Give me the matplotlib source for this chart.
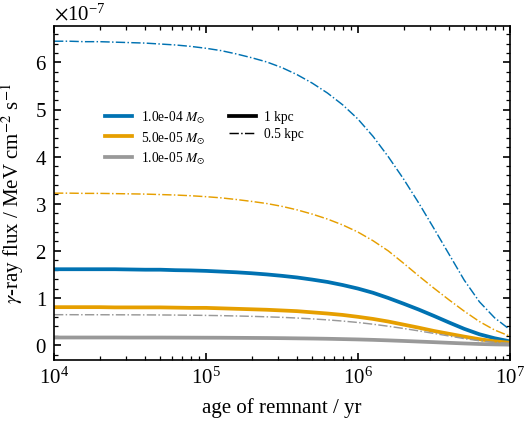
import numpy as np
import matplotlib
matplotlib.use("Agg")
import matplotlib.pyplot as plt
from matplotlib.ticker import ScalarFormatter

# age of remnant (yr), on a log grid
log_age = [4.0, 4.1, 4.2, 4.3, 4.4, 4.5, 4.6, 4.7, 4.8, 4.9,
           5.0, 5.1, 5.2, 5.3, 5.4, 5.5, 5.6, 5.7, 5.8, 5.9,
           6.0, 6.1, 6.2, 6.3, 6.4, 6.5, 6.6, 6.7, 6.8, 6.9, 7.0]

# flux in units of 1e-7 MeV cm^-2 s^-1
flux_1e4_05kpc = [6.45, 6.45, 6.44, 6.44, 6.43, 6.42, 6.41, 6.39, 6.37, 6.34,
                  6.30, 6.25, 6.18, 6.10, 6.01, 5.89, 5.74, 5.56, 5.35, 5.10,
                  4.80, 4.43, 4.00, 3.53, 3.02, 2.48, 1.93, 1.38, 0.92, 0.58, 0.33]
flux_1e4_1kpc = [1.61, 1.61, 1.61, 1.61, 1.61, 1.605, 1.60, 1.60, 1.59, 1.585,
                 1.575, 1.56, 1.545, 1.525, 1.50, 1.47, 1.435, 1.39, 1.34, 1.275,
                 1.20, 1.11, 1.00, 0.88, 0.755, 0.62, 0.48, 0.345, 0.23, 0.145, 0.08]
flux_5e5_05kpc = [3.225, 3.225, 3.22, 3.22, 3.215, 3.21, 3.205, 3.195, 3.185, 3.17,
                  3.15, 3.125, 3.09, 3.05, 3.005, 2.945, 2.87, 2.78, 2.675, 2.55,
                  2.40, 2.215, 2.00, 1.74, 1.47, 1.21, 0.96, 0.72, 0.50, 0.32, 0.19]
flux_5e5_1kpc = [0.805, 0.805, 0.805, 0.805, 0.80, 0.80, 0.80, 0.80, 0.795, 0.79,
                 0.79, 0.78, 0.77, 0.76, 0.75, 0.735, 0.72, 0.695, 0.67, 0.64,
                 0.60, 0.555, 0.50, 0.435, 0.37, 0.30, 0.24, 0.18, 0.125, 0.08, 0.05]
flux_1e5_05kpc = [0.645, 0.645, 0.644, 0.644, 0.643, 0.642, 0.641, 0.639, 0.637, 0.634,
                  0.63, 0.625, 0.618, 0.61, 0.60, 0.589, 0.574, 0.556, 0.535, 0.51,
                  0.48, 0.443, 0.40, 0.353, 0.302, 0.248, 0.193, 0.138, 0.092, 0.058, 0.035]
flux_1e5_1kpc = [0.161, 0.161, 0.161, 0.161, 0.161, 0.16, 0.16, 0.16, 0.159, 0.158,
                 0.157, 0.156, 0.154, 0.152, 0.15, 0.147, 0.143, 0.139, 0.134, 0.127,
                 0.12, 0.111, 0.10, 0.088, 0.075, 0.062, 0.048, 0.035, 0.023, 0.015, 0.009]

masses = ["1.0e-04", "5.0e-05", "1.0e-05"]
colors = ["#0072B2", "#E69F00", "#999999"]

plt.rcParams["font.family"] = "serif"
plt.rcParams["font.serif"] = ["Liberation Serif", "DejaVu Serif"]
plt.rcParams["mathtext.fontset"] = "stix"
plt.rcParams["font.size"] = 10
plt.rcParams["axes.linewidth"] = 0.8
for a in ["xtick", "ytick"]:
    plt.rcParams[a + ".direction"] = "in"
    plt.rcParams[a + ".major.size"] = 3.5
    plt.rcParams[a + ".minor.size"] = 1.8
    plt.rcParams[a + ".major.width"] = 0.8
    plt.rcParams[a + ".minor.width"] = 0.6
    plt.rcParams[a + ".minor.visible"] = True
plt.rcParams["xtick.top"] = True
plt.rcParams["ytick.right"] = True

fig = plt.figure(figsize=(3.54, 2.833), dpi=150)
ax = fig.add_axes([0.1017, 0.151, 0.8583, 0.7855])

age = 10 ** np.array(log_age)
solid = [flux_1e4_1kpc, flux_5e5_1kpc, flux_1e5_1kpc]
dashed = [flux_1e4_05kpc, flux_5e5_05kpc, flux_1e5_05kpc]

for i in range(3):
    ax.plot(age, np.array(solid[i]) * 1e-7, color=colors[i], lw=1.8,
            label=masses[i] + r" $M_{\odot}$")
for i in range(3):
    ax.plot(age, np.array(dashed[i]) * 1e-7, color=colors[i], lw=0.7, ls="-.")

ax.plot([], [], color="k", lw=1.8, label="1 kpc")
ax.plot([], [], color="k", lw=0.7, ls="-.", label="0.5 kpc")

ax.set_xscale("log")
ax.set_xlim(1e4, 1e7)
fmt = ScalarFormatter(useMathText=True)
fmt.set_powerlimits((-3, 3))
ax.yaxis.set_major_formatter(fmt)

ax.set_xlabel("age of remnant / yr")
ax.set_ylabel(r"$\gamma$-ray flux / MeV cm$^{-2}$ s$^{-1}$")

ax.legend(ncol=2, frameon=False, fontsize=6.5, loc="upper left",
          bbox_to_anchor=(0.086, 0.79), handlelength=2.0, handletextpad=0.6,
          columnspacing=1.8, labelspacing=0.3)

fig.savefig("out.png", dpi=150)
